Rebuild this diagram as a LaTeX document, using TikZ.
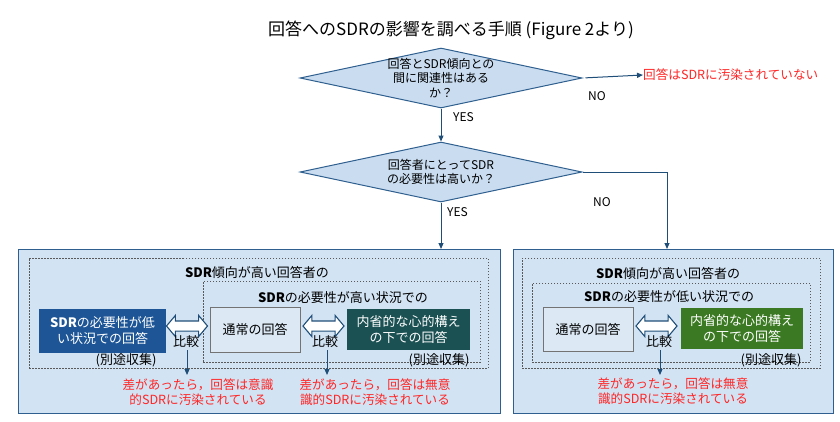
\documentclass[tikz,border=0pt]{standalone}
\usepackage{fontspec}
\setmainfont{Noto Sans CJK JP}
\usetikzlibrary{shapes.geometric,shapes.arrows,calc,arrows.meta}
\definecolor{dfill}{HTML}{C9DCF0}
\definecolor{dline}{HTML}{2F5F8F}
\definecolor{bigfill}{HTML}{D2E3F3}
\definecolor{arr}{HTML}{1F4E79}
\definecolor{navy}{HTML}{1D5596}
\definecolor{teal2}{HTML}{1B5153}
\definecolor{green2}{HTML}{3B7A23}
\definecolor{redtxt}{HTML}{FF2626}
\definecolor{plainfill}{HTML}{DCE9F5}
\tikzset{
  txt/.style={font=\fontsize{12}{14.5}\selectfont, align=center, inner sep=0},
  btxt/.style={font=\fontsize{13}{16}\selectfont, align=center, inner sep=0},
  dia/.style={diamond, draw=dline, fill=dfill, line width=1pt, minimum width=282pt, minimum height=60pt, inner sep=0, aspect=4.7},
  bigbox/.style={draw=dline, fill=bigfill, line width=1pt, inner sep=0},
  dashbox/.style={draw=black!65, dash pattern=on 1.5pt off 1.5pt, line width=0.8pt, inner sep=0},
  solidbox/.style={btxt, text=white, inner sep=0},
  plainbox/.style={btxt, draw=black!55, fill=plainfill, line width=0.8pt},
  dbl/.style={double arrow, draw=arr, fill=white, line width=1.1pt, minimum height=41pt, minimum width=0pt, inner xsep=0pt, inner ysep=4.5pt, double arrow head extend=5.5pt, double arrow tip angle=100},
  conn/.style={draw=arr, line width=1pt, -{Triangle[length=6pt,width=5pt]}},
  red/.style={font=\fontsize{12.6}{15}\selectfont, align=center, inner sep=0, text=redtxt},
}
\begin{document}
\begin{tikzpicture}[x=1pt,y=-1pt]
\path[use as bounding box, fill=white] (0,0) rectangle (840,421);

\node[txt, font=\fontsize{17}{19}\selectfont] (title) at (451,30) {回答へのSDRの影響を調べる手順 (Figure 2より)};

% diamonds
\node[dia] (d1) at (441,78) {};
\node[txt] (d1t) at (441,78) {回答とSDR傾向との\\間に関連性はある\\か？};
\node[dia] (d2) at (441,172) {};
\node[txt] (d2t) at (441,172) {回答者にとってSDR\\の必要性は高いか？};

\node[red, anchor=west] (nores) at (643,75) {回答はSDRに汚染されていない};
\node[txt] (no1) at (597,96) {NO};
\node[txt, anchor=west] (yes1) at (453,117) {YES};
\node[txt, anchor=west] (yes2) at (447,212) {YES};
\node[txt] (no2) at (602,202) {NO};

% big boxes
\node[bigbox, minimum width=482pt, minimum height=164pt] (lbox) at (259,331) {};
\node[bigbox, minimum width=320pt, minimum height=164pt] (rbox) at (673,331) {};

\coordinate (lin) at (441,249);
\coordinate (rin) at (667,249);
\coordinate (rturn) at (667,172);

\draw[conn, shorten <=3pt] (d1.east) -- (nores.west);
\draw[conn] (d1.south) -- (d2.north);
\draw[conn] (d2.south) -- (lin);
\draw[draw=arr, line width=1pt] (d2.east) -- (rturn);
\draw[conn] (rturn) -- (rin);

% left box contents
\node[dashbox, minimum width=459pt, minimum height=110pt] (lo) at (258.5,313) {};
\node[btxt] (lol) at (257,272) {\textbf{SDR}傾向が高い回答者の};
\node[dashbox, minimum width=277pt, minimum height=81pt] (li) at (341.5,321.5) {};
\node[btxt] (lil) at (343,298) {\textbf{SDR}の必要性が高い状況での};
\node[solidbox, fill=navy, minimum width=127pt, minimum height=44pt] (la) at (102.5,330.5) {\textbf{SDR}の必要性が低\\い状況での回答};
\node[plainbox, minimum width=90pt, minimum height=45pt] (lb) at (255,329.5) {通常の回答};
\node[solidbox, fill=teal2, minimum width=123pt, minimum height=41pt] (lc) at (408.5,329.5) {内省的な心的構え\\の下での回答};
\node[dbl] (lab) at (187,326) {};
\node[dbl] (lbc) at (323.5,326) {};
\node[btxt] (k1) at (186,342) {比較};
\node[btxt] (k2) at (325,342) {比較};
\node[btxt] (s1) at (126,360) {(別途収集)};
\node[btxt] (s2) at (439,360) {(別途収集)};
\node[red] (r1) at (198,392) {差があったら，回答は意識\\的SDRに汚染されている};
\node[red] (r2) at (375,392) {差があったら，回答は無意\\識的SDRに汚染されている};
\draw[conn] (187,350) -- (187,375);
\draw[conn] (327,350) -- (327,375);

% right box contents
\node[dashbox, minimum width=298pt, minimum height=110pt] (ro) at (671,313) {};
\node[btxt] (rol) at (668,273) {\textbf{SDR}傾向が高い回答者の};
\node[dashbox, minimum width=278pt, minimum height=79pt] (ri) at (671,322.5) {};
\node[btxt] (ril) at (669,297) {\textbf{SDR}の必要性が低い状況での};
\node[plainbox, minimum width=90pt, minimum height=44pt] (rb) at (588,329) {通常の回答};
\node[solidbox, fill=green2, minimum width=122pt, minimum height=41pt] (rc) at (742,328.5) {内省的な心的構え\\の下での回答};
\node[dbl] (rbc) at (656.5,326) {};
\node[btxt] (k3) at (659,342) {比較};
\node[btxt] (s3) at (771,360) {(別途収集)};
\node[red] (r3) at (673,391) {差があったら，回答は無意\\識的SDRに汚染されている};
\draw[conn] (660,350) -- (660,375);
\end{tikzpicture}
\end{document}
